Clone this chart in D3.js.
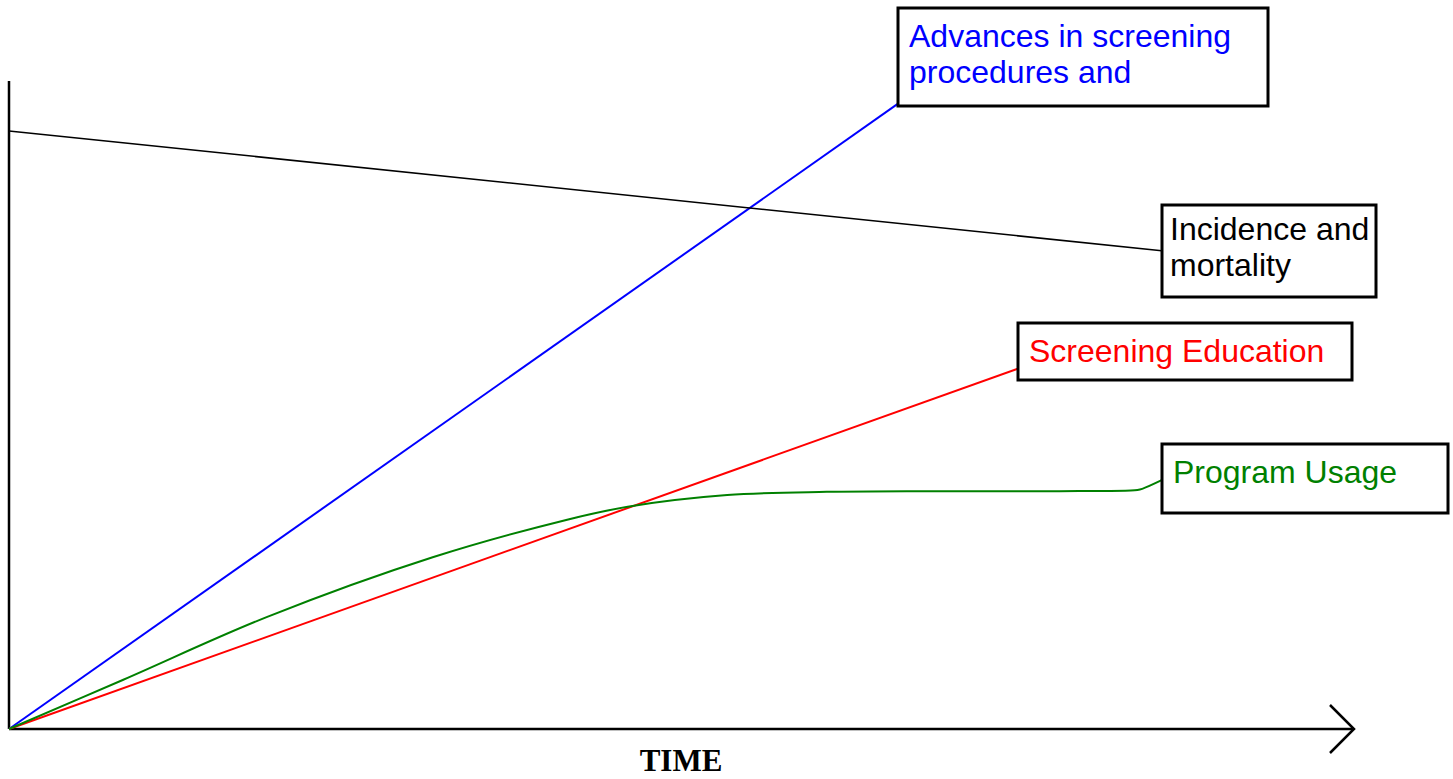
<!DOCTYPE html>
<html>
<head>
<meta charset="utf-8">
<script src="https://cdn.jsdelivr.net/npm/d3@7"></script>
<style>
  html, body { margin: 0; padding: 0; background: #fff; }
  svg { display: block; }
</style>
</head>
<body>
<svg id="chart" width="1453" height="779"></svg>
<script>
// ---------- DATA ----------
const timeDomain = [0, 100];
const levelDomain = [0, 100];
const axisLabel = "TIME";

const advancesTime   = [0, 66.1];
const advancesLevel  = [0, 96.5];

const incidenceTime  = [0, 85.7];
const incidenceLevel = [92.3, 73.8];

const educationTime  = [0, 75.0];
const educationLevel = [0, 55.6];

const usageTime  = [0, 8.5, 19.2, 31.5, 41.5, 46.0, 53.4, 60.8, 68.3, 73.7, 78.1, 83.9, 84.3, 85.7];
const usageLevel = [0, 7.6, 17.3, 26.5, 32.3, 34.3, 36.1, 36.6, 36.7, 36.7, 36.7, 36.9, 37.1, 38.4];

const advancesLabel  = ["Advances in screening", "procedures and"];
const incidenceLabel = ["Incidence and", "mortality"];
const educationLabel = ["Screening Education"];
const usageLabel     = ["Program Usage"];

// ---------- LAYOUT ----------
const svg = d3.select("#chart");
const x = d3.scaleLinear().domain(timeDomain).range([9, 1354]);
const y = d3.scaleLinear().domain(levelDomain).range([729, 81]);

const zip = (ts, vs) => ts.map((t, i) => [t, vs[i]]);

const series = [
  { pts: zip(advancesTime, advancesLevel),   color: "#0000ff", width: 2,   curve: d3.curveLinear },
  { pts: zip(incidenceTime, incidenceLevel), color: "#000000", width: 1.5, curve: d3.curveLinear },
  { pts: zip(educationTime, educationLevel), color: "#ff0000", width: 2,   curve: d3.curveLinear },
  { pts: zip(usageTime, usageLevel),         color: "#008000", width: 2,   curve: d3.curveCatmullRom.alpha(0.5) }
];

// axes
const axisG = svg.append("g");
axisG.append("line")
  .attr("x1", x(0)).attr("x2", x(0))
  .attr("y1", y(0)).attr("y2", y(100))
  .attr("stroke", "#000").attr("stroke-width", 2.5);
axisG.append("line")
  .attr("x1", x(0)).attr("x2", x(100))
  .attr("y1", y(0)).attr("y2", y(0))
  .attr("stroke", "#000").attr("stroke-width", 2.5);
axisG.append("path")
  .attr("d", `M${x(100) - 24},${y(0) - 24}L${x(100)},${y(0)}L${x(100) - 24},${y(0) + 24}`)
  .attr("fill", "none").attr("stroke", "#000").attr("stroke-width", 2.5);

axisG.append("text")
  .attr("x", 681).attr("y", 771)
  .attr("text-anchor", "middle")
  .attr("font-family", "'Liberation Serif', 'Times New Roman', serif")
  .attr("font-weight", "bold")
  .attr("font-size", 31)
  .text(axisLabel);

// lines
series.forEach(s => {
  const line = d3.line().x(d => x(d[0])).y(d => y(d[1])).curve(s.curve);
  svg.append("path")
    .attr("d", line(s.pts))
    .attr("fill", "none")
    .attr("stroke", s.color)
    .attr("stroke-width", s.width);
});

// label boxes
const boxes = [
  { lines: advancesLabel,  color: "#0000ff", x0: 898,  y0: 8,   w: 370, h: 98, tx: 909,  ty: 47,  lh: 36 },
  { lines: incidenceLabel, color: "#000000", x0: 1162, y0: 205, w: 214, h: 92, tx: 1170, ty: 240, lh: 36 },
  { lines: educationLabel, color: "#ff0000", x0: 1018, y0: 323, w: 334, h: 57, tx: 1029, ty: 362, lh: 36 },
  { lines: usageLabel,     color: "#008000", x0: 1162, y0: 444, w: 286, h: 69, tx: 1173, ty: 483, lh: 36 }
];

boxes.forEach(b => {
  svg.append("rect")
    .attr("x", b.x0).attr("y", b.y0)
    .attr("width", b.w).attr("height", b.h)
    .attr("fill", "#fff")
    .attr("stroke", "#000").attr("stroke-width", 3);
  b.lines.forEach((t, i) => {
    svg.append("text")
      .attr("x", b.tx).attr("y", b.ty + i * b.lh)
      .attr("font-family", "'Liberation Sans', Arial, sans-serif")
      .attr("font-size", 32)
      .attr("fill", b.color)
      .text(t);
  });
});
</script>
</body>
</html>
